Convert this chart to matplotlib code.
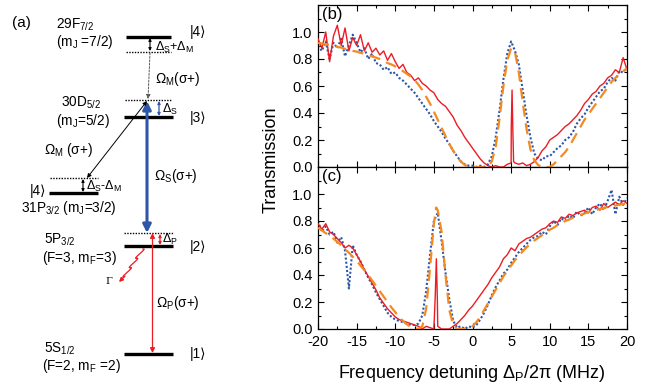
import numpy as np
import matplotlib
matplotlib.use("Agg")
import matplotlib.pyplot as plt
from matplotlib.ticker import MultipleLocator

plt.rcParams['font.family'] = ['Liberation Sans', 'DejaVu Sans']
plt.rcParams['mathtext.fontset'] = 'custom'
plt.rcParams['mathtext.rm'] = 'Liberation Sans'
plt.rcParams['mathtext.it'] = 'Liberation Sans:italic'

# probe detuning grid (MHz), 0.5 MHz steps from -20 to 20
detuning = np.arange(-20, 20.01, 0.5)

# panel (b)
b_red = [0.95, 0.88, 1.00, 0.78, 0.97, 1.05, 0.90, 1.03, 0.86, 0.96,
         0.90, 0.98, 0.86, 0.92, 0.85, 0.88, 0.83, 0.86, 0.79, 0.84,
         0.78, 0.73, 0.76, 0.70, 0.68, 0.64, 0.66, 0.62, 0.60, 0.57,
         0.55, 0.50, 0.47, 0.45, 0.41, 0.37, 0.31, 0.27, 0.22, 0.18,
         0.14, 0.10, 0.06, 0.03, 0.01, 0.00, 0.01, 0.00, 0.00, 0.02,
         0.03, 0.03, 0.02, 0.03, 0.01, 0.02, 0.04, 0.07, 0.12, 0.15,
         0.20, 0.22, 0.24, 0.27, 0.30, 0.32, 0.35, 0.38, 0.42, 0.47,
         0.50, 0.54, 0.56, 0.60, 0.62, 0.66, 0.68, 0.72, 0.70, 0.81,
         0.72]
b_red_peak_x = [5.02, 5.12, 5.22, 5.32]
b_red_peak_y = [0.30, 0.57, 0.28, 0.04]

b_blue = [0.90, 0.86, 0.93, 0.80, 0.92, 0.88, 0.95, 0.82, 0.90, 0.98,
          0.92, 0.85, 0.88, 0.80, 0.84, 0.77, 0.76, 0.72, 0.74, 0.69,
          0.70, 0.66, 0.64, 0.61, 0.58, 0.55, 0.51, 0.47, 0.43, 0.39,
          0.34, 0.30, 0.26, 0.21, 0.17, 0.12, 0.08, 0.04, 0.02, 0.01,
          0.01, 0.00, 0.01, 0.00, 0.02, 0.08, 0.22, 0.42, 0.65, 0.84,
          0.93, 0.86, 0.76, 0.57, 0.38, 0.22, 0.10, 0.06, 0.05, 0.08,
          0.08, 0.11, 0.14, 0.16, 0.20, 0.22, 0.26, 0.32, 0.36, 0.39,
          0.44, 0.48, 0.52, 0.56, 0.58, 0.63, 0.66, 0.64, 0.71, 0.70,
          0.74]

b_fit = [0.92, 0.915, 0.91, 0.905, 0.90, 0.89, 0.885, 0.875, 0.87, 0.86,
         0.855, 0.845, 0.84, 0.83, 0.82, 0.81, 0.80, 0.785, 0.77, 0.76,
         0.745, 0.73, 0.71, 0.69, 0.67, 0.645, 0.61, 0.57, 0.52, 0.47,
         0.41, 0.35, 0.29, 0.23, 0.17, 0.12, 0.075, 0.04, 0.015, 0.003,
         0.0, 0.0, 0.0, 0.0, 0.005, 0.04, 0.15, 0.36, 0.60, 0.79,
         0.88, 0.85, 0.70, 0.48, 0.28, 0.13, 0.05, 0.015, 0.0, 0.0,
         0.0, 0.02, 0.05, 0.08, 0.11, 0.15, 0.20, 0.25, 0.30, 0.35,
         0.39, 0.43, 0.47, 0.51, 0.55, 0.59, 0.63, 0.66, 0.69, 0.71,
         0.73]

# panel (c)
c_red = [0.78, 0.74, 0.78, 0.72, 0.70, 0.67, 0.64, 0.60, 0.62, 0.60,
         0.55, 0.50, 0.44, 0.39, 0.34, 0.29, 0.23, 0.19, 0.15, 0.12,
         0.09, 0.07, 0.06, 0.05, 0.04, 0.03, 0.02, 0.00, 0.02, 0.01,
         0.00, 0.02, 0.00, 0.00, 0.00, 0.02, 0.04, 0.07, 0.10, 0.14,
         0.17, 0.21, 0.25, 0.29, 0.33, 0.38, 0.42, 0.46, 0.52, 0.55,
         0.60, 0.58, 0.63, 0.65, 0.67, 0.68, 0.70, 0.72, 0.74, 0.75,
         0.78, 0.80, 0.79, 0.83, 0.82, 0.85, 0.84, 0.86, 0.87, 0.88,
         0.86, 0.90, 0.91, 0.88, 0.93, 0.90, 0.92, 0.94, 0.92, 0.95,
         0.93]
c_red_peak_x = [-4.82, -4.68, -4.55]
c_red_peak_y = [0.25, 0.52, 0.22]

c_blue = [0.80, 0.72, 0.76, 0.70, 0.72, 0.64, 0.68, 0.58, 0.30, 0.62,
          0.55, 0.50, 0.44, 0.38, 0.33, 0.27, 0.22, 0.17, 0.12, 0.09,
          0.07, 0.06, 0.05, 0.04, 0.03, 0.03, 0.04, 0.10, 0.28, 0.55,
          0.80, 0.86, 0.65, 0.42, 0.22, 0.06, 0.01, 0.02, 0.00, 0.02,
          0.01, 0.03, 0.07, 0.12, 0.18, 0.25, 0.31, 0.36, 0.41, 0.44,
          0.49, 0.53, 0.57, 0.60, 0.63, 0.66, 0.68, 0.69, 0.72, 0.70,
          0.76, 0.80, 0.77, 0.82, 0.80, 0.84, 0.82, 0.87, 0.84, 0.86,
          0.90, 0.85, 0.90, 0.93, 0.88, 0.95, 1.03, 0.85, 0.98, 0.92,
          0.97]

c_fit = [0.75, 0.73, 0.71, 0.69, 0.67, 0.645, 0.62, 0.59, 0.565, 0.535,
         0.505, 0.47, 0.435, 0.40, 0.36, 0.32, 0.28, 0.24, 0.20, 0.16,
         0.125, 0.09, 0.06, 0.035, 0.015, 0.005, 0.0, 0.02, 0.15, 0.45,
         0.78, 0.88, 0.72, 0.40, 0.14, 0.03, 0.0, 0.0, 0.0, 0.005,
         0.02, 0.05, 0.09, 0.14, 0.19, 0.24, 0.29, 0.34, 0.39, 0.43,
         0.47, 0.51, 0.545, 0.575, 0.605, 0.63, 0.655, 0.675, 0.695, 0.715,
         0.735, 0.75, 0.77, 0.785, 0.80, 0.81, 0.825, 0.835, 0.845, 0.855,
         0.865, 0.875, 0.88, 0.89, 0.895, 0.905, 0.91, 0.915, 0.92, 0.925,
         0.93]
c_fit_peak_x = [-4.7]
c_fit_peak_y = [0.90]

RED = '#ec1c24'
BLUE = '#2d55a8'
ORANGE = '#f58a20'


def merge(x, y, px, py):
    xx = np.concatenate([x, px])
    yy = np.concatenate([y, py])
    order = np.argsort(xx, kind='stable')
    return xx[order], yy[order]


fig = plt.figure(figsize=(6.55, 3.87), dpi=100)

# ---- (a) level diagram, drawn in pixel coordinates ----
ax0 = fig.add_axes([0, 0, 1, 1])
ax0.set_xlim(0, 655)
ax0.set_ylim(387, 0)
ax0.axis('off')


def level(x0, x1, y, dotted=False):
    if dotted:
        ax0.plot([x0, x1], [y, y], color='k', lw=1.0, ls=(0, (1, 1)))
    else:
        ax0.plot([x0, x1], [y, y], color='k', lw=2.4, solid_capstyle='butt')


def arrow(x0, y0, x1, y1, color='k', lw=0.8, style='<|-|>', ls='-', ms=6):
    ax0.annotate('', xy=(x1, y1), xytext=(x0, y0),
                 arrowprops=dict(arrowstyle=style, color=color, lw=lw, ls=ls,
                                 mutation_scale=ms, shrinkA=0, shrinkB=0))


level(126, 171, 37)
level(126, 171, 52, dotted=True)
level(125, 172, 100, dotted=True)
level(124, 173, 117)
level(50, 98, 178, dotted=True)
level(49, 98, 193)
level(124, 173, 233, dotted=True)
level(124, 173, 246)
level(124, 173, 354)

arrow(150, 38, 150, 51, ms=4)
arrow(150, 53, 148, 99, color='0.35', lw=0.7, style='-|>', ls=(0, (2, 1.5)), ms=6)
arrow(159, 101, 159, 116, color=BLUE, lw=0.9, ms=4)
arrow(147, 101, 147, 233, color=BLUE, lw=2.2, ms=12)
arrow(147, 101, 87, 178, lw=0.7, ms=6)
arrow(83, 179, 83, 192, ms=4)
arrow(152.5, 233, 152.5, 353, color=RED, lw=0.9, ms=7)
arrow(160, 234, 160, 245, color=RED, lw=0.9, ms=4)

# spontaneous decay squiggle
t = np.linspace(0, 1, 80)
sx = 143 + (124 - 143) * t
sy = 249 + (277 - 249) * t
wob = 3.0 * np.sin(t * 2 * np.pi * 3)
ax0.plot(sx + wob * 0.83, sy - wob * 0.56, color=RED, lw=0.9)
arrow(125, 276, 119, 282, color=RED, lw=0.9, style='-|>', ms=6)

fs = 9.8
txt = dict(fontsize=fs, va='center', ha='left')
small = dict(fontsize=9, va='center', ha='left')
ax0.text(12, 23, '(a)', fontsize=11, va='center')
ax0.text(56, 25, r'29F$_{7/2}$', **txt)
ax0.text(56, 42, r'(m$_\mathrm{J}$ =7/2)', **txt)
ax0.text(190, 32, '|4\u27e9', **txt)
ax0.text(155, 47, r'$\Delta_\mathrm{S}$+$\Delta_\mathrm{M}$', **small)
ax0.text(155, 79, r'$\Omega_\mathrm{M}$(σ+)', **txt)
ax0.text(61, 103, r'30D$_{5/2}$', **txt)
ax0.text(56, 121, r'(m$_\mathrm{J}$=5/2)', **txt)
ax0.text(162, 109, r'$\Delta_\mathrm{S}$', **small)
ax0.text(190, 118, '|3\u27e9', **txt)
ax0.text(44, 150, r'$\Omega_\mathrm{M}$ (σ+)', **txt)
ax0.text(154, 176, r'$\Omega_\mathrm{S}$(σ+)', **txt)
ax0.text(30, 191, '|4\u27e9', **txt)
ax0.text(86, 186, r'$\Delta_\mathrm{S}$-$\Delta_\mathrm{M}$', **small)
ax0.text(21, 208, r'31P$_{3/2}$ (m$_\mathrm{J}$=3/2)', **txt)
ax0.text(44, 240, r'5P$_{3/2}$', **txt)
ax0.text(42, 258, r'(F=3, m$_\mathrm{F}$=3)', **txt)
ax0.text(162, 239, r'$\Delta_\mathrm{P}$', **small)
ax0.text(190, 247, '|2\u27e9', **txt)
ax0.text(105, 281, 'Γ', fontsize=7, va='center', ha='left', family='DejaVu Serif')
ax0.text(156, 303, r'$\Omega_\mathrm{P}$(σ+)', **txt)
ax0.text(44, 349, r'5S$_{1/2}$', **txt)
ax0.text(42, 366, r'(F=2, m$_\mathrm{F}$ =2)', **txt)
ax0.text(190, 354, '|1\u27e9', **txt)

# ---- (b), (c) transmission spectra ----
left, width = 318 / 655, (627 - 318) / 655
ax_b = fig.add_axes([left, 1 - 167 / 387, width, 162 / 387])
ax_c = fig.add_axes([left, 1 - 329 / 387, width, 162 / 387])

panels = [
    (ax_b, '(b)', b_blue, merge(detuning, b_red, b_red_peak_x, b_red_peak_y),
     (detuning, np.array(b_fit))),
    (ax_c, '(c)', c_blue, merge(detuning, c_red, c_red_peak_x, c_red_peak_y),
     merge(detuning, c_fit, c_fit_peak_x, c_fit_peak_y)),
]

for ax, label, blue, (rx, ry), (fx, fy) in panels:
    ax.plot(detuning, blue, color=BLUE, lw=1.5, ls=(0, (1, 1)), zorder=2)
    ax.plot(rx, ry, color=RED, lw=1.0, zorder=3)
    ax.plot(fx, fy, color=ORANGE, lw=1.6, ls=(0, (5, 3)), zorder=4)
    ax.set_xlim(-20, 20)
    ax.set_ylim(0, 1.2)
    ax.xaxis.set_major_locator(MultipleLocator(5))
    ax.xaxis.set_minor_locator(MultipleLocator(2.5))
    ax.set_yticks([0, 0.2, 0.4, 0.6, 0.8, 1.0])
    ax.yaxis.set_minor_locator(MultipleLocator(0.1))
    ax.tick_params(which='both', direction='in', top=True, right=True,
                   labelsize=10.5, pad=4)
    ax.tick_params(which='major', length=4, width=0.8)
    ax.tick_params(which='minor', length=2.5, width=0.8)
    ax.text(0.012, 0.985, label, transform=ax.transAxes, fontsize=12,
            va='top', ha='left')
    for s in ax.spines.values():
        s.set_linewidth(0.9)

ax_b.tick_params(labelbottom=False)
ax_c.set_xticks([-20, -15, -10, -5, 0, 5, 10, 15, 20])
ax_c.set_xticklabels(['-20', '-15', '-10', '-5', '0', '5', '10', '15', '20'])

fig.text(271 / 655, 1 - 160 / 387, 'Transmission', rotation=90,
         fontsize=13, ha='center', va='center')
fig.text(472 / 655, 1 - 373 / 387, r'Frequency detuning $\Delta_\mathrm{P}$/2π (MHz)',
         fontsize=13, ha='center', va='center')

fig.savefig('out.png', dpi=100)
